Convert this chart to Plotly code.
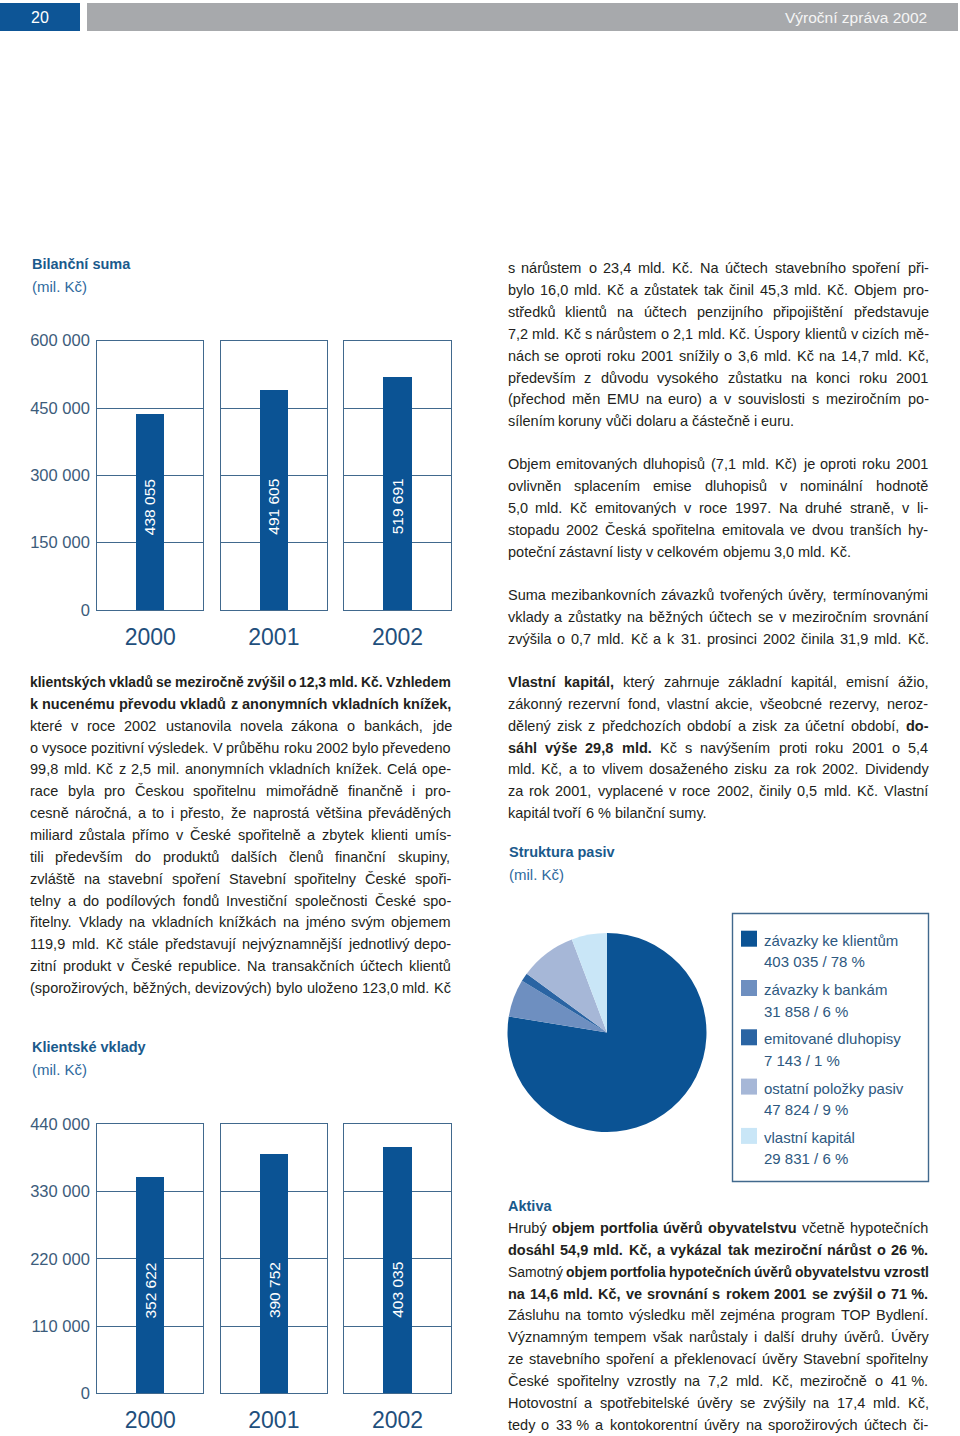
import plotly.graph_objects as go

W, H = 960, 1436


def X(p):
    return p / W


def Y(p):
    return 1 - p / H


# ---------------- data ----------------
YEARS = ["2000", "2001", "2002"]
BILANCNI_SUMA = [438055, 491605, 519691]
KLIENTSKE_VKLADY = [352622, 390752, 403035]
BS_TICKS = [0, 150000, 300000, 450000, 600000]
KV_TICKS = [0, 110000, 220000, 330000, 440000]

PASIVA_LABELS = ["závazky ke klientům", "závazky k bankám", "emitované dluhopisy",
                 "ostatní položky pasiv", "vlastní kapitál"]
PASIVA_VALUES = [403035, 31858, 7143, 47824, 29831]
PASIVA_COLORS = ["#0b5394", "#6e8fc0", "#2a64a3", "#a6b7d7", "#c9e6f7"]

# ---------------- styles ----------------
FONT = "Liberation Sans, Arial, sans-serif"
BAR = "#0b5394"
LC = "#41698d"
TICKC = "#3c5c7b"
YEARC = "#1f4f7c"
HEADC = "#1a5a8c"
UNITC = "#2f6a9e"
TEXTC = "#231f20"
LEGC = "#2d5880"


def fmt(v):
    return f"{v:,}".replace(",", " ")


fig = go.Figure()
layout = {}
ann = []
shapes = []

PANEL_X = [(97.3, 203.3), (221.0, 326.7), (344.3, 450.7)]


def bar_chart(first, values, ticks, top, bottom):
    ymax = ticks[-1]
    for i, (yr, v) in enumerate(zip(YEARS, values)):
        n = first + i
        s = "" if n == 1 else str(n)
        fig.add_trace(go.Bar(x=[yr], y=[v], xaxis="x" + s, yaxis="y" + s, width=0.27,
                             marker=dict(color=BAR, line=dict(width=0)),
                             hoverinfo="skip", showlegend=False))
        x0, x1 = PANEL_X[i]
        layout["xaxis" + s] = dict(domain=[X(x0), X(x1)], anchor="y" + s, type="category",
                                   range=[-0.5, 0.5], showline=True, mirror=True,
                                   linecolor=LC, linewidth=1.3, showgrid=False, zeroline=False,
                                   ticks="outside", ticklen=6, tickcolor="rgba(0,0,0,0)",
                                   tickfont=dict(size=23, color=YEARC, family=FONT),
                                   automargin=False, fixedrange=True)
        layout["yaxis" + s] = dict(domain=[Y(bottom), Y(top)], anchor="x" + s, range=[0, ymax],
                                   showline=True, mirror=True, linecolor=LC, linewidth=1.3,
                                   showgrid=True, gridcolor=LC, gridwidth=1.3, zeroline=False,
                                   tickvals=ticks, ticktext=[fmt(t) for t in ticks],
                                   showticklabels=(i == 0), ticks="outside", ticklen=3,
                                   tickcolor="rgba(0,0,0,0)",
                                   tickfont=dict(size=16.5, color=TICKC, family=FONT),
                                   automargin=False, fixedrange=True)
        # category axis: the single category of each panel has index 0
        ann.append(dict(xref="x" + s, yref="y" + s, x=0, y=ymax * 0.383, text=fmt(v),
                        textangle=-90, showarrow=False, xanchor="center", yanchor="middle",
                        font=dict(size=15.5, color="white", family=FONT)))


bar_chart(1, BILANCNI_SUMA, BS_TICKS, 340.7, 610.0)
bar_chart(4, KLIENTSKE_VKLADY, KV_TICKS, 1124.3, 1393.3)

# ---------------- pie ----------------
fig.add_trace(go.Pie(values=PASIVA_VALUES, labels=PASIVA_LABELS, sort=False,
                     direction="clockwise", rotation=0, textinfo="none",
                     marker=dict(colors=PASIVA_COLORS, line=dict(width=0)),
                     domain=dict(x=[X(507.5), X(706.5)], y=[Y(1132), Y(933)]),
                     showlegend=False, hoverinfo="skip"))

total = sum(PASIVA_VALUES)
shapes.append(dict(type="rect", xref="paper", yref="paper", x0=X(732.5), x1=X(928.5),
                   y0=Y(1181.5), y1=Y(913.5), line=dict(color=LC, width=1.4)))
for i, (lab, v, c) in enumerate(zip(PASIVA_LABELS, PASIVA_VALUES, PASIVA_COLORS)):
    top = 930.7 + i * 49.3
    shapes.append(dict(type="rect", xref="paper", yref="paper", x0=X(741), x1=X(757),
                       y0=Y(top + 16), y1=Y(top), fillcolor=c, line=dict(width=0)))
    pct = round(v / total * 100)
    ann.append(dict(xref="paper", yref="paper", x=X(763), y=Y(top + 9.5), xanchor="left",
                    yanchor="middle", text=lab, showarrow=False, borderpad=0,
                    font=dict(size=15, color=LEGC, family=FONT)))
    ann.append(dict(xref="paper", yref="paper", x=X(763), y=Y(top + 31), xanchor="left",
                    yanchor="middle", text=f"{fmt(v)} / {pct} %", showarrow=False, borderpad=0,
                    font=dict(size=15, color=LEGC, family=FONT)))

# ---------------- header ----------------
shapes.append(dict(type="rect", xref="paper", yref="paper", x0=X(0), x1=X(80), y0=Y(31), y1=Y(3),
                   fillcolor="#0d5596", line=dict(width=0)))
shapes.append(dict(type="rect", xref="paper", yref="paper", x0=X(87), x1=X(958), y0=Y(31), y1=Y(3),
                   fillcolor="#a7a9ac", line=dict(width=0)))
ann.append(dict(xref="paper", yref="paper", x=X(40), y=Y(17), text="20", showarrow=False,
                xanchor="center", yanchor="middle", borderpad=0,
                font=dict(size=16, color="white", family=FONT)))
ann.append(dict(xref="paper", yref="paper", x=X(928), y=Y(17), xanchor="right", yanchor="middle",
                text="Výroční zpráva 2002", showarrow=False, borderpad=0,
                font=dict(size=15.5, color="#f5f5f5", family=FONT)))


# ---------------- headings ----------------
def heading(x, y, text, bold=True, color=HEADC, size=14.5):
    ann.append(dict(xref="paper", yref="paper", x=X(x), y=Y(y), xanchor="left", yanchor="middle",
                    text=f"<b>{text}</b>" if bold else text, showarrow=False, borderpad=0,
                    font=dict(size=size, color=color, family=FONT)))


heading(31, 264, "Bilanční suma")
heading(31, 286, "(mil. Kč)", bold=False, color=UNITC, size=15)
heading(31, 1047, "Klientské vklady")
heading(31, 1069, "(mil. Kč)", bold=False, color=UNITC, size=15)
heading(508, 852, "Struktura pasiv")
heading(508, 874, "(mil. Kč)", bold=False, color=UNITC, size=15)
heading(507, 1206, "Aktiva")

# ---------------- body text (justified) ----------------
REG = {" ": 278, "\u00a0": 278, "%": 889, "(": 333, ")": 333, ",": 278, "-": 333, ".": 278,
       "/": 278, ":": 278}
BLD = {" ": 278, "\u00a0": 278, "%": 889, "(": 333, ")": 333, ",": 278, "-": 333, ".": 278,
       "/": 278, ":": 333}
for d in "0123456789":
    REG[d] = 556
    BLD[d] = 556
REG.update(dict(zip("ABCDEFGHIJKLMNOPQRSTUVWXYZ",
                    [667, 667, 722, 722, 667, 611, 778, 722, 278, 500, 667, 556, 833, 722, 778, 667,
                     778, 722, 667, 611, 722, 667, 944, 667, 667, 611])))
REG.update(dict(zip("abcdefghijklmnopqrstuvwxyz",
                    [556, 556, 500, 556, 556, 278, 556, 556, 222, 222, 500, 222, 833, 556, 556, 556,
                     556, 333, 500, 278, 556, 500, 722, 500, 500, 500])))
BLD.update(dict(zip("ABCDEFGHIJKLMNOPQRSTUVWXYZ",
                    [722, 722, 722, 722, 667, 611, 778, 722, 278, 556, 722, 611, 833, 722, 778, 667,
                     778, 722, 667, 611, 722, 667, 944, 667, 667, 611])))
BLD.update(dict(zip("abcdefghijklmnopqrstuvwxyz",
                    [556, 611, 556, 611, 556, 333, 611, 611, 278, 278, 556, 278, 889, 611, 611, 611,
                     611, 389, 556, 333, 611, 556, 778, 556, 556, 500])))
ACC = {"á": "a", "é": "e", "ě": "e", "ó": "o", "ú": "u", "ů": "u", "ý": "y", "č": "c",
       "ď": "d", "ň": "n", "ř": "r", "š": "s", "ť": "t", "ž": "z", "Č": "C", "Ř": "R",
       "Š": "S", "Ú": "U", "Ž": "Z", "É": "E", "Á": "A"}


def word_em(w, bold):
    t = BLD if bold else REG
    s = 0
    for ch in w:
        if ch == "í":
            s += 278
        else:
            s += t.get(ACC.get(ch, ch), 556)
    return s / 1000.0


def parse(line):
    out = []
    bold = False
    for tok in line.split(" "):
        if tok.startswith("**"):
            bold = True
            tok = tok[2:]
        end = tok.endswith("**")
        if end:
            tok = tok[:-2]
        out.append((tok, bold))
        if end:
            bold = False
    return out


BASE = 14.5
LINE_H = 21.86
MIN_GAP = 0.22


def paragraph(x0, x1, y0, lines, ragged_last):
    width = x1 - x0
    for k, line in enumerate(lines):
        words = parse(line)
        ems = [word_em(w, b) for w, b in words]
        n = len(words)
        tot = sum(ems)
        size = min(BASE, width / (tot + (n - 1) * MIN_GAP))
        justify = not (ragged_last and k == len(lines) - 1)
        if justify and n > 1:
            gap = (width - tot * size) / (n - 1)
        else:
            gap = 0.278 * size
        x = x0
        y = y0 + k * LINE_H
        for (w, b), e in zip(words, ems):
            ann.append(dict(xref="paper", yref="paper", x=X(x), y=Y(y), xanchor="left",
                            yanchor="middle", text=f"<b>{w}</b>" if b else w, showarrow=False,
                            borderpad=0, borderwidth=0,
                            font=dict(size=size, color=TEXTC, family=FONT)))
            x += e * size + gap


NB = "\u00a0"
P1 = [
    "s nárůstem o 23,4 mld. Kč. Na účtech stavebního spoření při-",
    "bylo 16,0 mld. Kč a zůstatek tak činil 45,3 mld. Kč. Objem pro-",
    "středků klientů na účtech penzijního připojištění představuje",
    "7,2 mld. Kč s nárůstem o 2,1 mld. Kč. Úspory klientů v cizích mě-",
    "nách se oproti roku 2001 snížily o 3,6 mld. Kč na 14,7 mld. Kč,",
    "především z důvodu vysokého zůstatku na konci roku 2001",
    "(přechod měn EMU na euro) a v souvislosti s meziročním po-",
    "sílením koruny vůči dolaru a částečně i euru.",
]
P2 = [
    "Objem emitovaných dluhopisů (7,1 mld. Kč) je oproti roku 2001",
    "ovlivněn splacením emise dluhopisů v nominální hodnotě",
    "5,0 mld. Kč emitovaných v roce 1997. Na druhé straně, v li-",
    "stopadu 2002 Česká spořitelna emitovala ve dvou tranších hy-",
    "poteční zástavní listy v celkovém objemu 3,0 mld. Kč.",
]
P3 = [
    "Suma mezibankovních závazků tvořených úvěry, termínovanými",
    "vklady a zůstatky na běžných účtech se v meziročním srovnání",
    "zvýšila o 0,7 mld. Kč a k 31. prosinci 2002 činila 31,9 mld. Kč.",
]
PL = [
    "**klientských vkladů se meziročně zvýšil o 12,3 mld. Kč. Vzhledem**",
    "**k nucenému převodu vkladů z anonymních vkladních knížek,**",
    "které v roce 2002 ustanovila novela zákona o bankách, jde",
    "o vysoce pozitivní výsledek. V průběhu roku 2002 bylo převedeno",
    "99,8 mld. Kč z 2,5 mil. anonymních vkladních knížek. Celá ope-",
    "race byla pro Českou spořitelnu mimořádně finančně i pro-",
    "cesně náročná, a to i přesto, že naprostá většina převáděných",
    "miliard zůstala přímo v České spořitelně a zbytek klienti umís-",
    "tili především do produktů dalších členů finanční skupiny,",
    "zvláště na stavební spoření Stavební spořitelny České spoři-",
    "telny a do podílových fondů Investiční společnosti České spo-",
    "řitelny. Vklady na vkladních knížkách na jméno svým objemem",
    "119,9 mld. Kč stále představují nejvýznamnější jednotlivý depo-",
    "zitní produkt v České republice. Na transakčních účtech klientů",
    "(sporožirových, běžných, devizových) bylo uloženo 123,0 mld. Kč",
]
PVK = [
    "**Vlastní kapitál,** který zahrnuje základní kapitál, emisní ážio,",
    "zákonný rezervní fond, vlastní akcie, všeobcné rezervy, neroz-",
    "dělený zisk z předchozích období a zisk za účetní období, **do-**",
    "**sáhl výše 29,8 mld.** Kč s navýšením proti roku 2001 o 5,4",
    "mld. Kč, a to vlivem dosaženého zisku za rok 2002. Dividendy",
    "za rok 2001, vyplacené v roce 2002, činily 0,5 mld. Kč. Vlastní",
    f"kapitál tvoří 6{NB}% bilanční sumy.",
]
PA = [
    "Hrubý **objem portfolia úvěrů obyvatelstvu** včetně hypotečních",
    f"**dosáhl 54,9 mld. Kč, a vykázal tak meziroční nárůst o 26{NB}%.**",
    "Samotný **objem portfolia hypotečních úvěrů obyvatelstvu vzrostl**",
    f"**na 14,6 mld. Kč, ve srovnání s rokem 2001 se zvýšil o 71{NB}%.**",
    "Zásluhu na tomto výsledku měl zejména program TOP Bydlení.",
    "Významným tempem však narůstaly i další druhy úvěrů. Úvěry",
    "ze stavebního spoření a překlenovací úvěry Stavební spořitelny",
    f"České spořitelny vzrostly na 7,2 mld. Kč, meziročně o 41{NB}%.",
    "Hotovostní a spotřebitelské úvěry se zvýšily na 17,4 mld. Kč,",
    f"tedy o 33{NB}% a kontokorentní úvěry na sporožirových účtech či-",
]

paragraph(507.5, 928.5, 268.3, P1, True)
paragraph(507.5, 928.5, 464.2, P2, True)
paragraph(507.5, 928.5, 595.3, P3, False)
paragraph(30.0, 451.0, 682.0, PL, False)
paragraph(507.5, 928.5, 682.0, PVK, True)
paragraph(507.5, 928.5, 1228.0, PA, False)

layout.update(dict(width=W, height=H, margin=dict(l=0, r=0, t=0, b=0, pad=0),
                   paper_bgcolor="white", plot_bgcolor="white", template="none",
                   font=dict(family=FONT, color=TEXTC), showlegend=False, hovermode=False,
                   bargap=0, annotations=ann, shapes=shapes))
fig.update_layout(**layout)
fig.write_html("out.html", config={"displayModeBar": False},
               post_script="document.body.style.margin='0';document.body.style.overflow='hidden';")
